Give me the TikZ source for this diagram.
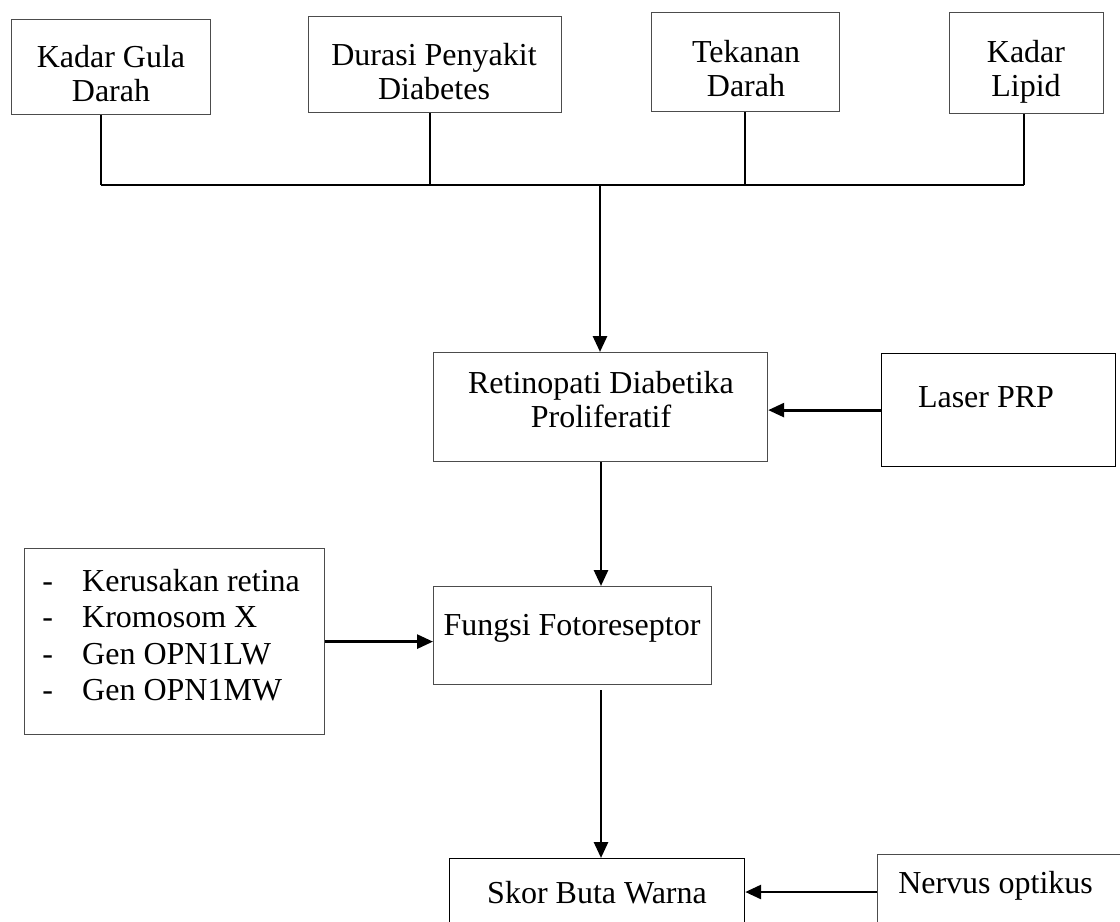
\documentclass[tikz,border=0pt]{standalone}
\usepackage{fontspec}
\setmainfont{Liberation Serif}
\usetikzlibrary{arrows.meta,calc}
\begin{document}
\begin{tikzpicture}[x=0.75pt,y=-0.75pt,
  box/.style={draw=black!70, line width=0.9pt, inner sep=0pt, anchor=north west},
  dbox/.style={box, draw=black},
  txt/.style={anchor=base, inner sep=0pt, font=\fontsize{24}{26}\selectfont},
  stem/.style={line width=1.5pt},
  bus/.style={line width=2.2pt},
  arr/.style={line width=2.1pt, -{Triangle[length=12pt,width=10.5pt]}},
]
\useasboundingbox (0,0) rectangle (1120,921);
\clip (0,0) rectangle (1120,921);
\fill[white] (0,0) rectangle (1120,921);

% top row boxes
\node[box, minimum width={199*0.75pt}, minimum height={95*0.75pt}] (b1) at (11,19) {};
\node[box, minimum width={253*0.75pt}, minimum height={96*0.75pt}] (b2) at (308,16) {};
\node[box, minimum width={188*0.75pt}, minimum height={99*0.75pt}] (b3) at (651,12) {};
\node[box, minimum width={154*0.75pt}, minimum height={101*0.75pt}] (b4) at (949,12) {};
\node[txt] (t1) at (111,67) {\begin{tabular}[t]{@{}c@{}}Kadar Gula\\Darah\end{tabular}};
\node[txt] (t2) at (434,65) {\begin{tabular}[t]{@{}c@{}}Durasi Penyakit\\Diabetes\end{tabular}};
\node[txt] (t3) at (746,62) {\begin{tabular}[t]{@{}c@{}}Tekanan\\Darah\end{tabular}};
\node[txt] (t4) at (1026,62) {\begin{tabular}[t]{@{}c@{}}Kadar\\Lipid\end{tabular}};

% middle boxes
\node[box, minimum width={334*0.75pt}, minimum height={109*0.75pt}] (ret) at (433,352) {};
\node[txt] (tret) at (601,393) {\begin{tabular}[t]{@{}c@{}}Retinopati Diabetika\\Proliferatif\end{tabular}};
\node[dbox, minimum width={234*0.75pt}, minimum height={113*0.75pt}] (laser) at (881,353) {};
\node[txt] (tlaser) at (986,407) {Laser PRP};

\node[box, minimum width={300*0.75pt}, minimum height={186*0.75pt}] (list) at (24,548) {};
\node[txt, anchor=base west, font=\fontsize{24}{27.4}\selectfont] (tlist) at (42,591) {\begin{tabular}[t]{@{}l@{}}\makebox[30pt][l]{-}Kerusakan retina\\\makebox[30pt][l]{-}Kromosom X\\\makebox[30pt][l]{-}Gen OPN1LW\\\makebox[30pt][l]{-}Gen OPN1MW\end{tabular}};

\node[box, minimum width={278*0.75pt}, minimum height={98*0.75pt}] (fung) at (433,586) {};
\node[txt] (tfung) at (572,635) {Fungsi Fotoreseptor};

% bottom boxes
\node[dbox, minimum width={295*0.75pt}, minimum height={100*0.75pt}] (skor) at (449,858) {};
\node[txt] (tskor) at (597,903) {Skor Buta Warna};
\node[box, minimum width={260*0.75pt}, minimum height={100*0.75pt}] (nerv) at (877,854) {};
\node[txt, anchor=base west] (tnerv) at (898,893) {Nervus optikus};

% junctions
\coordinate (j1) at (101,185);
\coordinate (j2) at (430,185);
\coordinate (j3) at (745,185);
\coordinate (j4) at (1024,185);
\coordinate (jm) at (600,185);
\coordinate (g) at (601,690);
\coordinate (n) at (877,892);

\draw[stem] (b1.south -| j1) -- (j1);
\draw[stem] (b2.south -| j2) -- (j2);
\draw[stem] (b3.south -| j3) -- (j3);
\draw[stem] (b4.south -| j4) -- (j4);
\draw[bus] (j1) -- (j4);

\draw[arr] (jm) -- (jm |- ret.north);
\draw[arr] (laser.west) -- (laser.west -| ret.east);
\draw[arr] (ret.south -| g) -- (fung.north -| g);
\draw[arr] (list.east) -- (list.east -| fung.west);
\draw[arr] (g) -- (g |- skor.north);
\draw[arr] (n) -- (n -| skor.east);
\end{tikzpicture}
\end{document}
